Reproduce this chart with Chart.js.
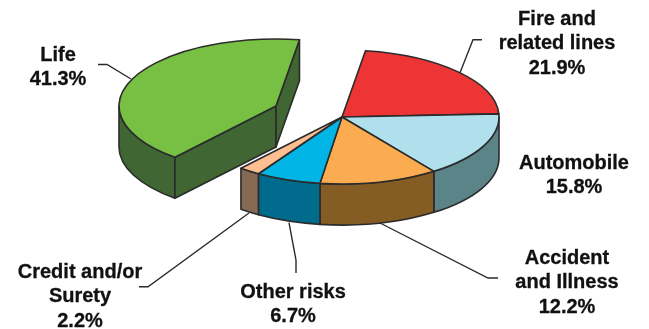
<!DOCTYPE html>
<html>
<head>
<meta charset="utf-8">
<title>Premiums by line</title>
<script src="https://cdn.jsdelivr.net/npm/chart.js@4/dist/chart.umd.min.js"></script>
<style>
  html, body { margin: 0; padding: 0; background: #fff; }
  canvas { display: block; }
</style>
</head>
<body>
<canvas id="premium_chart" width="649" height="329"></canvas>
<script>
// share of premiums, clockwise from the first slice
let categories = [["Fire and", "related lines"], ["Automobile"], ["Accident", "and Illness"], ["Other risks"], ["Credit and/or", "Surety"], ["Life"]];
let shares = [21.9, 15.8, 12.2, 6.7, 2.2, 41.3];

let topColors = ["#ee3536", "#b0e0ec", "#fbab50", "#00b5e6", "#fdbe92", "#77c043"];
let sideColors = ["#97201f", "#5b8488", "#855c23", "#006b8c", "#866952", "#3f6633"];

// pulled-out slice, screen px
let explodeX = [0, 0, 0, 0, 0, -66];
let explodeY = [0, 0, 0, 0, 0, -11];

// text block centres and first line y
let labelX = [557, 574, 567, 293, 80, 58];
let labelY = [19.5, 163.5, 258.5, 292.5, 272.5, 55.5];
let labelStep = 24.3;

// leader lines
let leaders = [
    [[482, 39.7], [473, 39.7], [460, 72.7]],
    [],
    [[498, 278], [488, 278], [380, 223]],
    [[296, 273], [296, 260], [289, 222.7]],
    [[139, 286.7], [148, 286.7], [249, 213]],
    [[98, 64.5], [107, 64.5], [131, 79]]
];

let squash = 0.4268;
let depth = 41;
let edgeColor = "#2b2b2b";

function outlineSide(ctx, cx, cy, r, a, b) {
    ctx.beginPath();
    ctx.ellipse(cx, cy, r, r * squash, 0, a, b);
    ctx.ellipse(cx, cy + depth, r, r * squash, 0, b, a, true);
    ctx.closePath();
}

function drawSides(ctx, arc, i) {
    let cx = arc.x + explodeX[i];
    let cy = arc.y + explodeY[i];
    let r = arc.outerRadius;
    ctx.fillStyle = sideColors[i];

    // only the front half of the rim can be seen
    let a = Math.max(arc.startAngle, 0);
    let b = Math.min(arc.endAngle, Math.PI);
    if (b > a) {
        outlineSide(ctx, cx, cy, r, a, b);
        ctx.fill();
        ctx.stroke();
    }

    // cut faces of the pulled-out slice
    if (explodeX[i] != 0) {
        [arc.startAngle, arc.endAngle].forEach(function (angle) {
            let px = cx + Math.cos(angle) * r;
            let py = cy + Math.sin(angle) * r * squash;
            ctx.beginPath();
            ctx.moveTo(cx, cy);
            ctx.lineTo(px, py);
            ctx.lineTo(px, py + depth);
            ctx.lineTo(cx, cy + depth);
            ctx.closePath();
            ctx.fill();
            ctx.stroke();
        });
    }
}

function drawTop(ctx, arc, i) {
    let cx = arc.x + explodeX[i];
    let cy = arc.y + explodeY[i];

    ctx.save();
    ctx.translate(explodeX[i], cy);
    ctx.scale(1, squash);
    ctx.translate(0, -arc.y);
    arc.draw(ctx);
    ctx.restore();

    // stroked after the squash so the line keeps an even width
    ctx.beginPath();
    ctx.moveTo(cx, cy);
    ctx.ellipse(cx, cy, arc.outerRadius, arc.outerRadius * squash, 0, arc.startAngle, arc.endAngle);
    ctx.closePath();
    ctx.stroke();
}

let slabPlugin = {
    id: "slab",
    beforeDatasetDraw: function (chart, args) {
        let ctx = chart.ctx;
        let arcs = args.meta.data;
        ctx.save();
        ctx.strokeStyle = edgeColor;
        ctx.lineWidth = 1.6;
        ctx.lineJoin = "round";
        arcs.forEach(function (arc, i) { drawSides(ctx, arc, i); });
        arcs.forEach(function (arc, i) { drawTop(ctx, arc, i); });
        ctx.restore();
        return false;
    }
};

let labelPlugin = {
    id: "sliceLabels",
    afterDatasetsDraw: function (chart) {
        let ctx = chart.ctx;
        ctx.save();
        ctx.strokeStyle = edgeColor;
        ctx.lineWidth = 1.4;
        leaders.forEach(function (line) {
            if (line.length == 0) return;
            ctx.beginPath();
            ctx.moveTo(line[0][0], line[0][1]);
            for (let i = 1; i < line.length; i++) ctx.lineTo(line[i][0], line[i][1]);
            ctx.stroke();
        });

        ctx.fillStyle = "#111";
        ctx.strokeStyle = "#111";
        ctx.lineWidth = 0.3;
        ctx.font = "bold 20px 'Liberation Sans', Arial, sans-serif";
        ctx.textAlign = "center";
        ctx.textBaseline = "middle";
        categories.forEach(function (lines, i) {
            let rows = lines.concat(shares[i].toFixed(1) + "%");
            rows.forEach(function (row, n) {
                ctx.fillText(row, labelX[i], labelY[i] + n * labelStep);
                ctx.strokeText(row, labelX[i], labelY[i] + n * labelStep);
            });
        });
        ctx.restore();
    }
};

new Chart(document.getElementById("premium_chart"), {
    type: "pie",
    data: {
        labels: categories.map(function (c) { return c.join(" "); }),
        datasets: [{
            data: shares,
            backgroundColor: topColors,
            borderWidth: 0
        }]
    },
    options: {
        responsive: false,
        animation: false,
        rotation: 8.6,
        radius: 157,
        layout: { padding: { left: 35, bottom: 95 } },
        plugins: {
            legend: { display: false },
            tooltip: { enabled: false }
        }
    },
    plugins: [slabPlugin, labelPlugin]
});
</script>
</body>
</html>
